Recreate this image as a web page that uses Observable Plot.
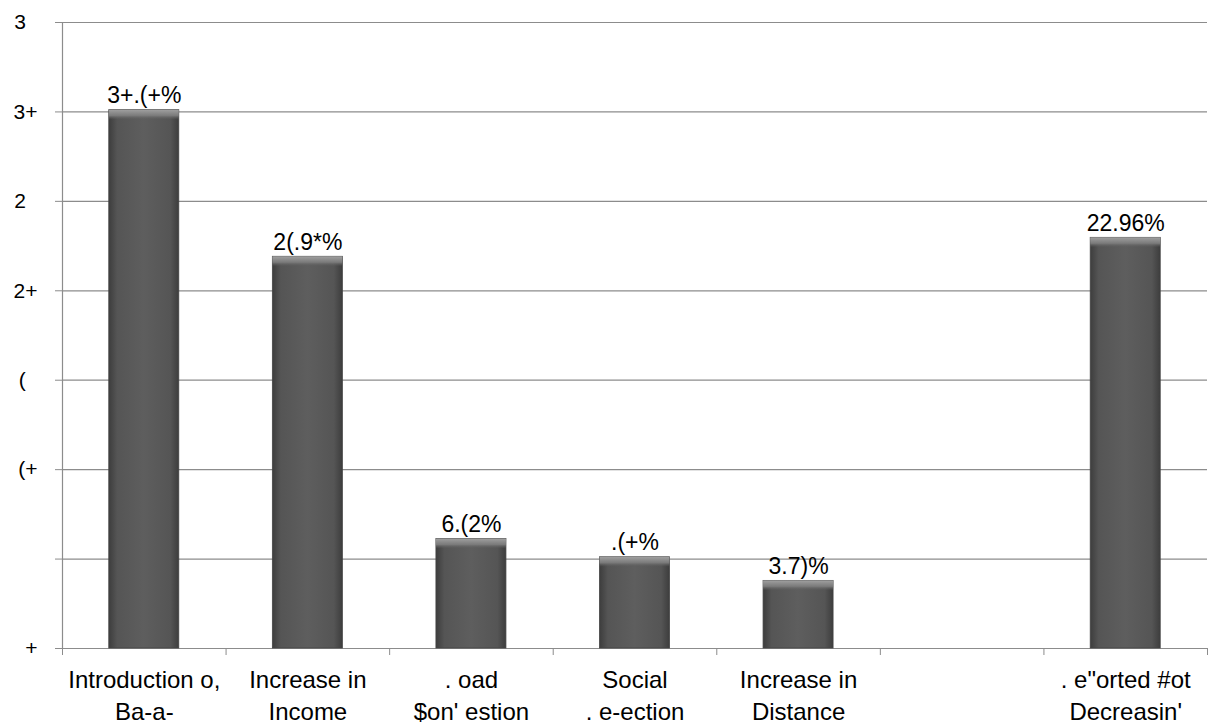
<!DOCTYPE html>
<html>
<head>
<meta charset="utf-8">
<script src="https://cdn.jsdelivr.net/npm/d3@7"></script>
<script src="https://cdn.jsdelivr.net/npm/@observablehq/plot@0.6"></script>
<style>
  html, body { margin: 0; padding: 0; background: #fff; }
  #chart svg { display: block; }
</style>
</head>
<body>
<div id="chart"></div>
<script>
// Category labels (as shown in the reference, incl. its font-substitution glyphs)
const categories = [
  "Introduction o,\nBa-a-",
  "Increase in\nIncome",
  ". oad\n$on' estion",
  "Social\n. e-ection",
  "Increase in\nDistance",
  "",
  ". e\"orted #ot\nDecreasin'"
];
// Values in percent (null = no bar)
const values = [30.10, 21.9, 6.12, 5.10, 3.78, null, 22.96];
// Value labels as shown
const valueLabels = ["3+.(+%", "2(.9*%", "6.(2%", ".(+%", "3.7)%", "", "22.96%"];
// Y tick values and labels as shown
const yTicks = [0, 5, 10, 15, 20, 25, 30, 35];
const yTickLabels = ["+", "", "(+", "(\u2007", "2+", "2\u2007", "3+", "3\u2007"];

const data = categories.map((c, i) => ({i, c, v: values[i], lab: valueLabels[i]}))
  .filter(d => d.v != null);

const halfBar = 0.214;

const plot = Plot.plot({
  width: 1213,
  height: 727,
  marginLeft: 62,
  marginRight: 6,
  marginTop: 22,
  marginBottom: 79,
  style: {fontFamily: "'Liberation Sans', Arial, sans-serif", color: "#000", background: "#fff"},
  x: {domain: [0, categories.length]},
  y: {domain: [0, 35]},
  marks: [
    Plot.gridY(yTicks, {stroke: "#8c8c8c", strokeOpacity: 1, strokeWidth: 1.2}),
    Plot.ruleX([0], {y1: 0, y2: 35, stroke: "#8c8c8c", strokeWidth: 1.2}),
    Plot.axisY({
      ticks: yTicks,
      tickFormat: () => "",
      tickSize: 7,
      stroke: "#8c8c8c",
      label: null
    }),
    Plot.text(yTicks, {
      x: 0,
      y: d => d,
      text: d => yTickLabels[yTicks.indexOf(d)],
      textAnchor: "end",
      dx: -25,
      fontSize: 21,
      fill: "#000"
    }),
    Plot.axisX({
      ticks: d3.range(0, categories.length + 1),
      tickFormat: () => "",
      tickSize: 7,
      stroke: "#8c8c8c",
      label: null
    }),
    Plot.axisX({
      ticks: categories.map((c, i) => i + 0.5),
      tickFormat: d => categories[Math.floor(d)],
      tickSize: 0,
      tickPadding: 16,
      fontSize: 24,
      lineHeight: 1.35,
      label: null
    }),
    Plot.rectY(data, {
      x1: d => d.i + 0.5 - halfBar,
      x2: d => d.i + 0.5 + halfBar,
      y1: 0,
      y2: "v",
      fill: "url(#barGrad)",
      stroke: "#444",
      strokeWidth: 0.8
    }),
    Plot.rectY(data, {
      x1: d => d.i + 0.5 - halfBar,
      x2: d => d.i + 0.5 + halfBar,
      y1: "v",
      y2: "v",
      insetBottom: -10,
      fill: "url(#topGrad)"
    }),
    Plot.text(data, {
      x: d => d.i + 0.5,
      y: "v",
      text: "lab",
      dy: -7,
      lineAnchor: "bottom",
      fontSize: 23,
      fill: "#000"
    })
  ]
});

// gradient definitions for bar shading
const ns = "http://www.w3.org/2000/svg";
const defs = document.createElementNS(ns, "defs");
defs.innerHTML = `
  <linearGradient id="barGrad" x1="0" x2="1" y1="0" y2="0">
    <stop offset="0" stop-color="#3d3d3d"/>
    <stop offset="0.12" stop-color="#555"/>
    <stop offset="0.5" stop-color="#5e5e5e"/>
    <stop offset="0.88" stop-color="#555"/>
    <stop offset="1" stop-color="#3d3d3d"/>
  </linearGradient>
  <linearGradient id="topGrad" x1="0" x2="0" y1="0" y2="1">
    <stop offset="0" stop-color="#a0a0a0"/>
    <stop offset="0.6" stop-color="#7a7a7a"/>
    <stop offset="1" stop-color="#5e5e5e" stop-opacity="0"/>
  </linearGradient>`;
plot.insertBefore(defs, plot.firstChild);

document.getElementById("chart").appendChild(plot);
</script>
</body>
</html>
